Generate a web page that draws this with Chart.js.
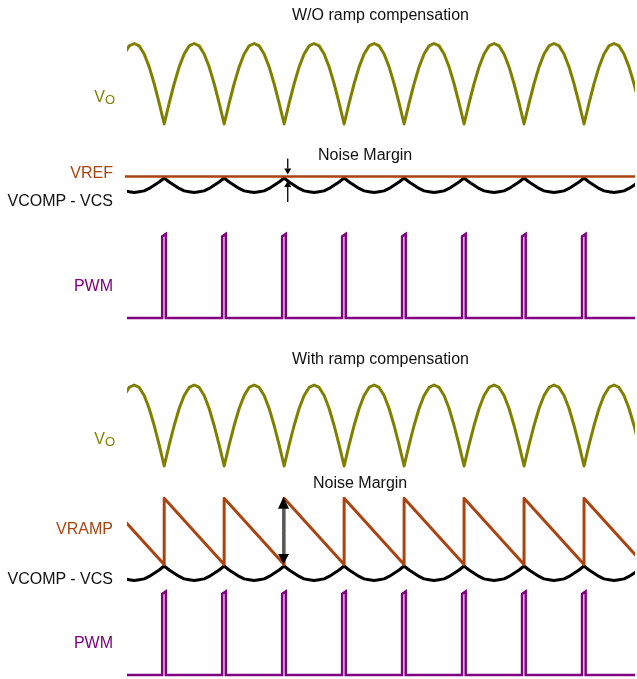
<!DOCTYPE html>
<html>
<head>
<meta charset="utf-8">
<title>Ramp compensation</title>
<script src="https://cdn.jsdelivr.net/npm/chart.js@4.4.0/dist/chart.umd.min.js"></script>
<style>
  html, body { margin: 0; padding: 0; background: #fff; }
  #wrap { position: relative; width: 637px; height: 679px; overflow: hidden; }
  #wave { position: absolute; left: 0; top: 0; }
  .lbl { position: absolute; font-family: "Liberation Sans", Arial, sans-serif; font-size: 16px; line-height: 16px; white-space: nowrap; color: #111; }
  .lbl sub { font-size: 13px; vertical-align: -2px; line-height: 0; }
  .vo { color: #808000; }
  .ref { color: #aa4411; }
  .pwm { color: #800080; }
</style>
</head>
<body>
<div id="wrap">
  <canvas id="wave" width="637" height="679"></canvas>

  <div class="lbl" style="left:292px; top:6.5px">W/O ramp compensation</div>
  <div class="lbl vo" style="right:522px; top:88.5px">V<sub>O</sub></div>
  <div class="lbl" style="left:318px; top:146.5px">Noise Margin</div>
  <div class="lbl ref" style="right:524px; top:164.5px">VREF</div>
  <div class="lbl" style="right:524px; top:192.5px">VCOMP - VCS</div>
  <div class="lbl pwm" style="right:524px; top:277.5px">PWM</div>

  <div class="lbl" style="left:292px; top:350.5px">With ramp compensation</div>
  <div class="lbl vo" style="right:522px; top:430.5px">V<sub>O</sub></div>
  <div class="lbl" style="left:313px; top:475px">Noise Margin</div>
  <div class="lbl ref" style="right:524px; top:520.5px">VRAMP</div>
  <div class="lbl" style="right:524px; top:570.5px">VCOMP - VCS</div>
  <div class="lbl pwm" style="right:524px; top:634.5px">PWM</div>
</div>

<script>
// time window shown (ms)
var tStart = 3.8;
var tEnd = 88.5;
// valleys of the rectified line voltage, the PWM fires at each one
var valleys = [10, 20, 30, 40, 50, 60, 70, 80];
// Vo over one half line cycle, valley to valley (normalised)
var voArch = [0, 0.26, 0.5, 0.71, 0.87, 0.97, 1, 0.97, 0.87, 0.71, 0.5, 0.26, 0];
// VCOMP - VCS over the same half cycle
var compArch = [0.98, 0.93, 0.89, 0.85, 0.82, 0.81, 0.8, 0.81, 0.82, 0.85, 0.89, 0.93, 0.98];
var vref = 1.0;
// compensation ramp: jumps to rampTop at a valley, falls to rampBottom at the next one
var rampTop = 1.82;
var rampBottom = 1.0;
// one PWM pulse as [time from valley, level]
var pwmPulse = [[-0.33, 0], [-0.33, 0.97], [0.27, 1], [0.27, 0]];
// where the noise margin arrows go
var marginAtTop = 30.6;
var marginAtBottom = 29.9;

var halfCycle = valleys[1] - valleys[0];
var archStarts = [valleys[0] - halfCycle].concat(valleys);
var lastEnd = valleys[valleys.length - 1] + halfCycle;

function arches(shape) {
  var pts = [];
  archStarts.forEach(function (s, k) {
    shape.forEach(function (v, i) {
      if (k > 0 && i == 0) return;
      pts.push({ x: s + halfCycle * i / (shape.length - 1), y: v });
    });
  });
  return pts;
}

function rampPoints() {
  var pts = [{ x: archStarts[0], y: rampTop }];
  valleys.forEach(function (t) {
    pts.push({ x: t, y: rampBottom }, { x: t, y: rampTop });
  });
  pts.push({ x: lastEnd, y: rampBottom });
  return pts;
}

function pwmPoints() {
  var pts = [{ x: archStarts[0], y: 0 }];
  valleys.forEach(function (t) {
    pwmPulse.forEach(function (p) {
      pts.push({ x: t + p[0], y: p[1] });
    });
  });
  pts.push({ x: lastEnd, y: 0 });
  return pts;
}

// each trace gets its own hidden y axis; band() picks min/max so that
// value v1 sits at pixel p1 and v2 at p2 inside the 679px plot height
var H = 679;
function band(v1, p1, v2, p2) {
  var pxPerUnit = (p1 - p2) / (v2 - v1);
  var min = v1 - (H - p1) / pxPerUnit;
  return { type: 'linear', display: false, min: min, max: min + H / pxPerUnit };
}

var olive = '#808000';
var rust = '#aa4411';
var purple = '#800080';

function trace(data, axis, color, extra) {
  var ds = {
    data: data,
    yAxisID: axis,
    borderColor: color,
    borderWidth: 3,
    borderJoinStyle: 'round',
    pointRadius: 0,
    tension: 0,
    fill: false
  };
  for (var k in extra) ds[k] = extra[k];
  return ds;
}

// arrow from tail y0 to tip y1 at x
function arrow(ctx, x, y0, y1, w, h, shaft, lw) {
  var dir = y1 > y0 ? 1 : -1;
  ctx.strokeStyle = shaft;
  ctx.lineWidth = lw;
  ctx.beginPath();
  ctx.moveTo(x, y0);
  ctx.lineTo(x, y1 - dir * h);
  ctx.stroke();
  ctx.fillStyle = '#000';
  ctx.beginPath();
  ctx.moveTo(x, y1);
  ctx.lineTo(x - w / 2, y1 - dir * h);
  ctx.lineTo(x + w / 2, y1 - dir * h);
  ctx.closePath();
  ctx.fill();
}

var marginArrows = {
  id: 'marginArrows',
  afterDatasetsDraw: function (chart) {
    var ctx = chart.ctx, s = chart.scales;
    ctx.save();
    // gap between VREF and the VCOMP - VCS peak
    var x = s.x.getPixelForValue(marginAtTop);
    var yRef = s.yCmp1.getPixelForValue(vref);
    var yPeak = s.yCmp1.getPixelForValue(compArch[0]);
    arrow(ctx, x, yRef - 18, yRef - 2, 7, 6, '#000', 1.3);
    arrow(ctx, x, yPeak + 24, yPeak + 3, 7, 6, '#000', 1.3);
    // ramp peak down to VCOMP - VCS
    x = s.x.getPixelForValue(marginAtBottom);
    var yTop = s.yCmp2.getPixelForValue(rampTop) - 1.5;
    var yBot = s.yCmp2.getPixelForValue(compArch[0]) - 2;
    var mid = (yTop + yBot) / 2;
    arrow(ctx, x, mid, yTop, 11, 12, '#595959', 3);
    arrow(ctx, x, mid, yBot, 11, 10, '#595959', 3);
    ctx.restore();
  }
};

var config = {
  type: 'line',
  data: {
    datasets: [
      trace(arches(voArch), 'yVo1', olive),
      trace([{ x: tStart - 0.35, y: vref }, { x: tEnd, y: vref }], 'yCmp1', rust, { borderWidth: 2.5, clip: false }),
      trace(arches(compArch), 'yCmp1', '#000'),
      trace(pwmPoints(), 'yPwm1', purple, { borderWidth: 2.5, borderJoinStyle: 'miter' }),

      trace(arches(voArch), 'yVo2', olive),
      trace(rampPoints(), 'yCmp2', rust),
      trace(arches(compArch), 'yCmp2', '#000'),
      trace(pwmPoints(), 'yPwm2', purple, { borderWidth: 2.5, borderJoinStyle: 'miter' })
    ]
  },
  options: {
    responsive: false,
    animation: false,
    devicePixelRatio: 1,
    layout: { padding: { left: 127, right: 2, top: 0, bottom: 0 } },
    plugins: { legend: { display: false }, tooltip: { enabled: false } },
    scales: {
      x: { type: 'linear', display: false, min: tStart, max: tEnd },
      yVo1: band(0, 124, 1, 43.5),
      yCmp1: band(0.8, 192.5, 0.98, 178),
      yPwm1: band(0, 318, 1, 234),
      yVo2: band(0, 466, 1, 385),
      yCmp2: band(0.8, 580.5, 0.98, 566),
      yPwm2: band(0, 675, 1, 591.5)
    }
  },
  plugins: [marginArrows]
};

var wave = new Chart(document.getElementById('wave'), config);
</script>
</body>
</html>
